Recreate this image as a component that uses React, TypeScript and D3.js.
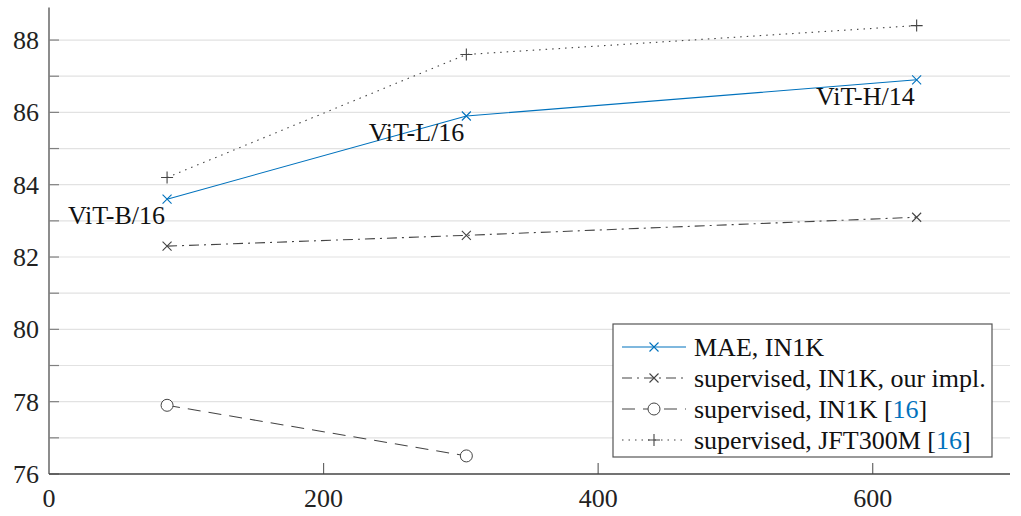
import * as d3 from "d3";

const W = 1021;
const H = 516;
const MARGIN = { top: 7.5, right: 11, bottom: 42, left: 49 };
const TXT = { fontFamily: '"Liberation Serif"' };
const BLUE = "#0072BD";
const GRAY = "#444444";

// model size (M params) for ViT-B/16, ViT-L/16, ViT-H/14
const params = [86, 304, 632];
const modelNames = ["ViT-B/16", "ViT-L/16", "ViT-H/14"];

const maeIN1K = [83.6, 85.9, 86.9];
const supOurs = [82.3, 82.6, 83.1];
const supIN1K = [77.9, 76.5];
const supJFT = [84.2, 87.6, 88.4];

const xTicks = [0, 200, 400, 600];
const yTicks = [76, 78, 80, 82, 84, 86, 88];
const yMinor = [76, 77, 78, 79, 80, 81, 82, 83, 84, 85, 86, 87, 88];

type Marker = "x" | "o" | "+";
type Series = {
  label: string;
  cite?: string;
  values: number[];
  color: string;
  dash: string;
  marker: Marker;
};

const series: Series[] = [
  { label: "MAE, IN1K", values: maeIN1K, color: BLUE, dash: "none", marker: "x" },
  { label: "supervised, IN1K, our impl.", values: supOurs, color: GRAY, dash: "10 5 2 5", marker: "x" },
  { label: "supervised, IN1K ", cite: "16", values: supIN1K, color: GRAY, dash: "13 8", marker: "o" },
  { label: "supervised, JFT300M ", cite: "16", values: supJFT, color: GRAY, dash: "1.5 5", marker: "+" },
];

const MarkerShape = ({ type, x, y, color }: { type: Marker; x: number; y: number; color: string }) => {
  if (type === "x") {
    const s = 4.5;
    return (
      <path
        d={`M${x - s},${y - s}L${x + s},${y + s}M${x - s},${y + s}L${x + s},${y - s}`}
        stroke={color}
        strokeWidth={1.1}
        fill="none"
      />
    );
  }
  if (type === "+") {
    const s = 6;
    return (
      <path
        d={`M${x - s},${y}L${x + s},${y}M${x},${y - s}L${x},${y + s}`}
        stroke={color}
        strokeWidth={1.1}
        fill="none"
      />
    );
  }
  return <circle cx={x} cy={y} r={6} stroke={color} strokeWidth={1} fill="white" />;
};

export default function App() {
  const xScale = d3.scaleLinear().domain([0, 700]).range([MARGIN.left, W - MARGIN.right]);
  const yScale = d3.scaleLinear().domain([76, 88.9]).range([H - MARGIN.bottom, MARGIN.top]);

  const line = d3
    .line<number>()
    .x((_, i) => xScale(params[i]))
    .y((d) => yScale(d));

  const x0 = xScale(0);
  const x1 = xScale(700);
  const y0 = yScale(76);
  const yTop = yScale(88.9);

  const legend = { x: 613, y: 324, w: 379, h: 133 };
  const rowY = [347, 378, 409, 440];

  return (
    <svg width={W} height={H} style={{ position: "absolute", left: 0, top: 0, background: "white" }}>
      {/* grid */}
      {yMinor.slice(1).map((v) => (
        <line key={"g" + v} x1={x0} x2={x1} y1={yScale(v)} y2={yScale(v)} stroke="#e2e2e2" strokeWidth={1.2} />
      ))}

      {/* y ticks */}
      {yMinor.map((v) => (
        <line key={"yt" + v} x1={x0} x2={x0 + 10} y1={yScale(v)} y2={yScale(v)} stroke="#808080" strokeWidth={1.2} />
      ))}
      {yTicks.map((v) => (
        <text key={"yl" + v} x={x0 - 10} y={yScale(v)} dy="0.34em" textAnchor="end" fontSize={26} fill="#222" style={TXT}>
          {v}
        </text>
      ))}

      {/* x ticks */}
      {xTicks.slice(1).map((v) => (
        <line key={"xt" + v} x1={xScale(v)} x2={xScale(v)} y1={y0} y2={y0 - 11} stroke="#666" strokeWidth={1.2} />
      ))}
      {xTicks.map((v) => (
        <text key={"xl" + v} x={xScale(v)} y={y0 + 33} textAnchor="middle" fontSize={26} fill="#222" style={TXT}>
          {v}
        </text>
      ))}

      {/* axes */}
      <line x1={x0} x2={x0} y1={yTop} y2={y0} stroke="#808080" strokeWidth={1.8} />
      <line x1={x0} x2={x1} y1={y0} y2={y0} stroke="#444" strokeWidth={1.5} />

      {/* series */}
      {series.map((s, si) => (
        <g key={"s" + si}>
          <path
            d={line(s.values) || ""}
            fill="none"
            stroke={s.color}
            strokeWidth={1.1}
            strokeDasharray={s.dash}
          />
          {s.values.map((v, i) => (
            <MarkerShape key={i} type={s.marker} x={xScale(params[i])} y={yScale(v)} color={s.color} />
          ))}
        </g>
      ))}

      {/* model labels */}
      {modelNames.map((n, i) => (
        <text
          key={n}
          x={xScale(params[i]) - 2}
          y={yScale(maeIN1K[i]) + 25}
          textAnchor="end"
          fontSize={26}
          fill="#111"
          style={TXT}
        >
          {n}
        </text>
      ))}

      {/* legend */}
      <rect x={legend.x} y={legend.y} width={legend.w} height={legend.h} fill="white" stroke="#555" strokeWidth={1.2} />
      {series.map((s, i) => (
        <g key={"l" + i}>
          <line
            x1={622}
            x2={686}
            y1={rowY[i]}
            y2={rowY[i]}
            stroke={s.color}
            strokeWidth={1.1}
            strokeDasharray={s.dash}
          />
          <MarkerShape type={s.marker} x={654} y={rowY[i]} color={s.color} />
          <text x={694} y={rowY[i]} dy="0.33em" fontSize={26} fill="#111" style={TXT}>
            {s.label}
            {s.cite && (
              <>
                [<tspan fill={BLUE}>{s.cite}</tspan>]
              </>
            )}
          </text>
        </g>
      ))}
    </svg>
  );
}
